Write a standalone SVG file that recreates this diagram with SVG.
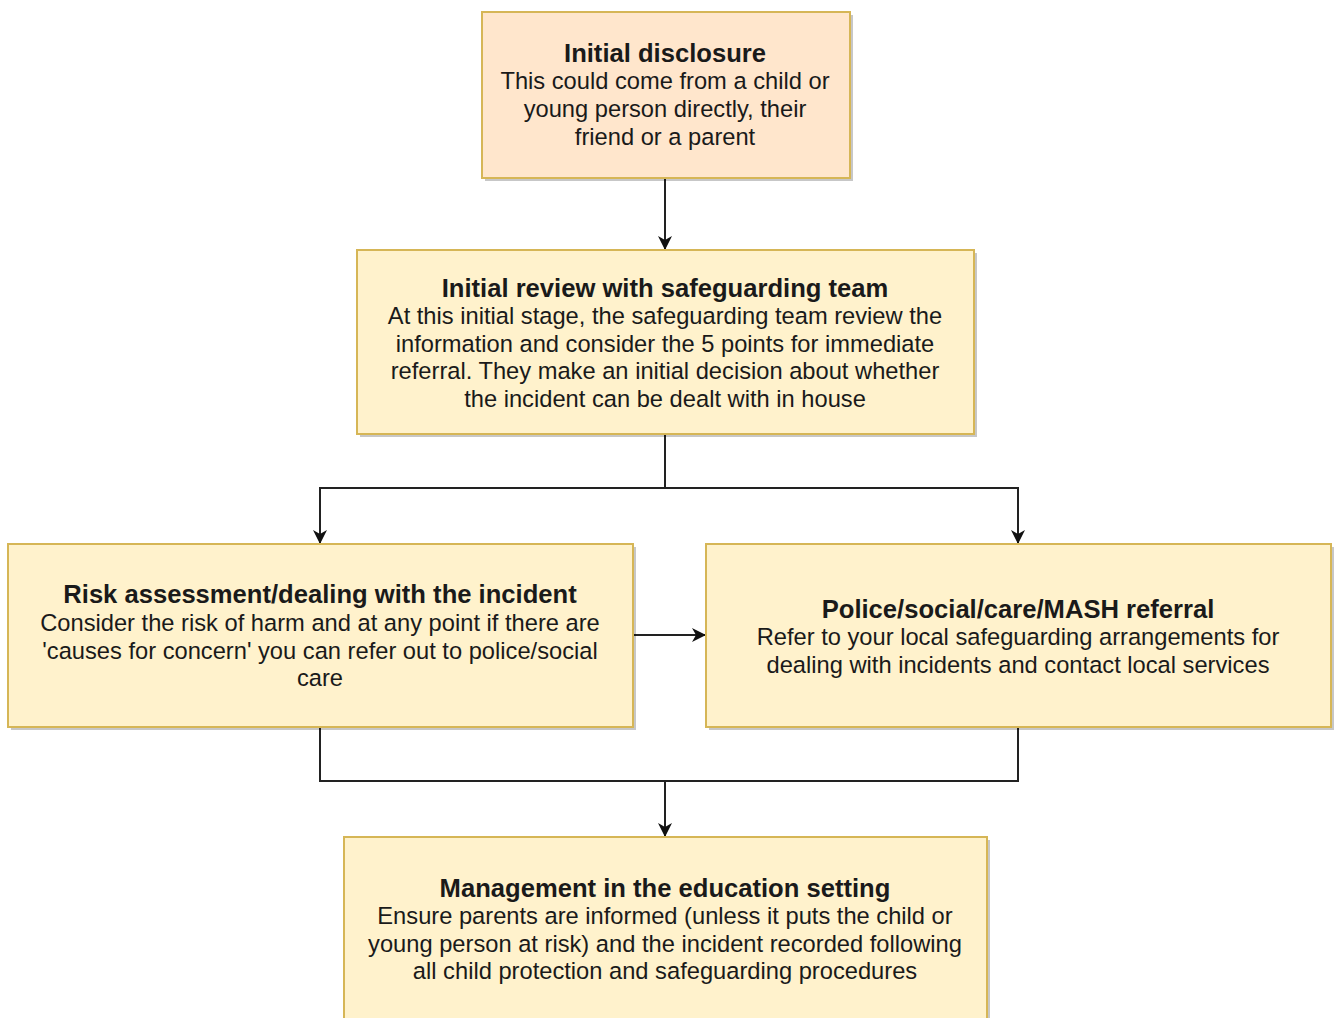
<svg xmlns="http://www.w3.org/2000/svg" width="1337" height="1018" viewBox="0 0 1337 1018">
<style>
.box{stroke:#D6B656;stroke-width:2}
.orange{fill:#FFE6CC}
.yellow{fill:#FFF2CC}
.shadow{fill:#000;opacity:0.22}
.t{font-family:"Liberation Sans",Arial,sans-serif;font-size:23.7px;fill:#1a1a1a;text-anchor:middle}
.b{font-weight:bold;font-size:25.6px}
.c{fill:none;stroke:#222;stroke-width:2}
</style>
<defs>
<marker id="arr" markerWidth="14" markerHeight="14" refX="13" refY="7" orient="auto" markerUnits="userSpaceOnUse">
<path d="M0,0 L14,7 L0,14 L4,7 Z" fill="#111"/>
</marker>
</defs>
<rect width="1337" height="1018" fill="#fff"/>
<g id="connectors">
<path class="c" d="M665,178 V249" marker-end="url(#arr)"/>
<path class="c" d="M665,434 V488 H320 V543" marker-end="url(#arr)"/>
<path class="c" d="M665,488 H1018 V543" marker-end="url(#arr)"/>
<path class="c" d="M633,635 H705" marker-end="url(#arr)"/>
<path class="c" d="M320,727 V781 H1018 V727"/>
<path class="c" d="M665,781 V836" marker-end="url(#arr)"/>
</g>
<g id="initial-disclosure">
<rect class="shadow" x="485" y="15" width="368" height="166"/>
<rect class="box orange" x="482" y="12" width="368" height="166"/>
<text class="t b" x="665" y="62">Initial disclosure</text>
<text class="t" x="665" y="89">This could come from a child or</text>
<text class="t" x="665" y="117">young person directly, their</text>
<text class="t" x="665" y="145">friend or a parent</text>
</g>
<g id="initial-review">
<rect class="shadow" x="360" y="253" width="617" height="184"/>
<rect class="box yellow" x="357" y="250" width="617" height="184"/>
<text class="t b" x="665" y="297">Initial review with safeguarding team</text>
<text class="t" x="665" y="324">At this initial stage, the safeguarding team review the</text>
<text class="t" x="665" y="352">information and consider the 5 points for immediate</text>
<text class="t" x="665" y="379">referral. They make an initial decision about whether</text>
<text class="t" x="665" y="407">the incident can be dealt with in house</text>
</g>
<g id="risk-assessment">
<rect class="shadow" x="11" y="547" width="625" height="183"/>
<rect class="box yellow" x="8" y="544" width="625" height="183"/>
<text class="t b" x="320" y="603">Risk assessment/dealing with the incident</text>
<text class="t" x="320" y="631">Consider the risk of harm and at any point if there are</text>
<text class="t" x="320" y="659">'causes for concern' you can refer out to police/social</text>
<text class="t" x="320" y="686">care</text>
</g>
<g id="police-referral">
<rect class="shadow" x="709" y="547" width="625" height="183"/>
<rect class="box yellow" x="706" y="544" width="625" height="183"/>
<text class="t b" x="1018" y="618">Police/social/care/MASH referral</text>
<text class="t" x="1018" y="645">Refer to your local safeguarding arrangements for</text>
<text class="t" x="1018" y="673">dealing with incidents and contact local services</text>
</g>
<g id="management">
<rect class="shadow" x="347" y="840" width="643" height="190"/>
<rect class="box yellow" x="344" y="837" width="643" height="190"/>
<text class="t b" x="665" y="897">Management in the education setting</text>
<text class="t" x="665" y="924">Ensure parents are informed (unless it puts the child or</text>
<text class="t" x="665" y="952">young person at risk) and the incident recorded following</text>
<text class="t" x="665" y="979">all child protection and safeguarding procedures</text>
</g>
</svg>
